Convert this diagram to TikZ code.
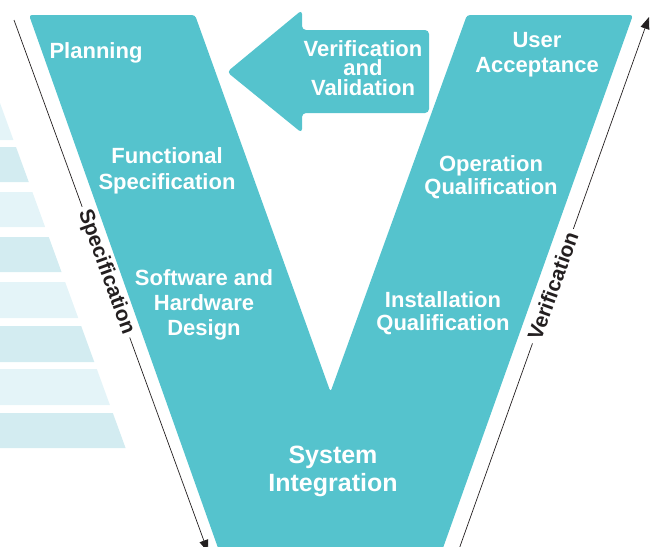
\documentclass[tikz,border=0pt]{standalone}
\usepackage{fontspec}
\setmainfont{Liberation Sans}
\usetikzlibrary{arrows.meta,calc}
\definecolor{vteal}{HTML}{55C3CD}
\definecolor{bandA}{HTML}{E4F4F8}
\definecolor{bandB}{HTML}{D3ECF1}
\definecolor{ink}{HTML}{231F20}
\begin{document}
\begin{tikzpicture}[x=1pt,y=-1pt,
  lbl/.style={text=white,font=\bfseries\fontsize{22}{26}\selectfont,align=center,inner sep=0pt,anchor=north},
  axisline/.style={draw=ink,line width=0.7pt},
  axislbl/.style={text=ink,font=\bfseries\fontsize{21}{24}\selectfont,inner sep=4pt},
  tip/.style={-{Triangle[length=12pt,width=9pt]}}]
\useasboundingbox (0,0) rectangle (658,546);
\clip (0,0) rectangle (658,546);
% background bands
\foreach \t/\b/\c in {103/140/bandA,147/182/bandB,192/227/bandA,237/272/bandB,282/318/bandA,326/362/bandB,369/405/bandA,413/448/bandB}
  \fill[\c] (-5,\t) -- ({0.364*(\t-103)},\t) -- ({0.364*(\b-103)},\b) -- (-5,\b) -- cycle;
% V shape
\fill[vteal,rounded corners=3pt] (29,15) -- (195,15) -- (330.5,392) -- (467,15) -- (633,15) -- (438,562) -- (223,562) -- cycle;
% left arrow shape
\fill[vteal,rounded corners=4pt] (429,30) -- (429,113) -- (302,113) -- (302,133) -- (227,72) -- (302,10) -- (302,30) -- cycle;
% labels
\node[lbl] (plan) at (96,42) {Planning};
\node[lbl,font=\bfseries\fontsize{22}{26.5}\selectfont] (func) at (167,147) {Functional\\Specification};
\node[lbl,font=\bfseries\fontsize{22}{25}\selectfont] (soft) at (204,269) {Software and\\Hardware\\Design};
\node[lbl,font=\bfseries\fontsize{25}{28.7}\selectfont] (sys) at (333,445.5) {System\\Integration};
\node[lbl,font=\bfseries\fontsize{22}{22.7}\selectfont] (inst) at (443,291.7) {Installation\\Qualification};
\node[lbl,font=\bfseries\fontsize{22}{23.3}\selectfont] (oper) at (491,155) {Operation\\Qualification};
\node[lbl,font=\bfseries\fontsize{22}{25}\selectfont] (user) at (537,31.7) {User\\Acceptance};
\node[lbl,font=\bfseries\fontsize{22}{19.5}\selectfont] (vv) at (363,40) {Verification\\and\\Validation};
% axes
\coordinate (ltop) at (14,20);
\coordinate (lbot) at (208,552);
\node[axislbl,rotate=-70] (spec) at ($(ltop)!0.474!(lbot)$) {Specification};
\draw[axisline] (ltop) -- (spec.west);
\draw[axisline,tip] (spec.east) -- (lbot);
\coordinate (rbot) at (458,552);
\coordinate (rtop) at (649,17);
\node[axislbl,rotate=70.35] (verif) at ($(rbot)!0.497!(rtop)$) {Verification};
\draw[axisline] (rbot) -- (verif.west);
\draw[axisline,tip] (verif.east) -- (rtop);
\end{tikzpicture}
\end{document}
